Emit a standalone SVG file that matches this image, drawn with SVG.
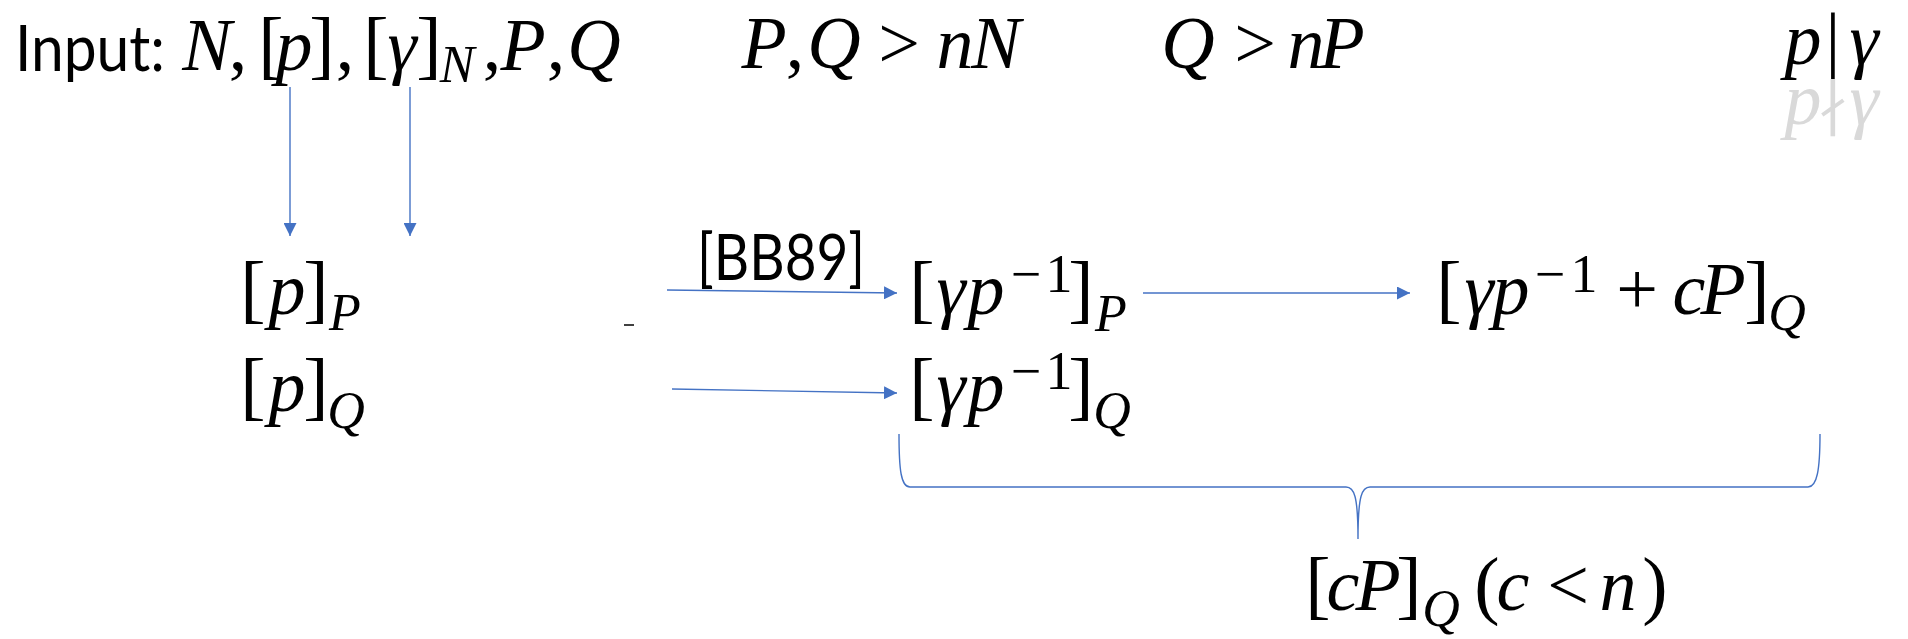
<svg xmlns="http://www.w3.org/2000/svg" width="1908" height="639" viewBox="0 0 1908 639">
<style>
.t{font-family:"Lato","Liberation Sans",sans-serif;font-size:64px;fill:#000}
.m{font-family:"Liberation Serif","DejaVu Serif",serif;font-style:italic;font-size:74px;fill:#000;text-anchor:middle}
.u{font-style:normal}
.b{font-style:normal;font-size:76px}
.s{font-size:52px}
.p{font-style:normal;font-size:54px}
.gray{fill:#d9d9d9}
.nd{font-family:"DejaVu Sans",sans-serif;font-style:normal;font-size:58px}
.ln{stroke:#4472C4;stroke-width:1.4;fill:none}
</style>
<defs>
<marker id="ahb" viewBox="0 0 10 10" refX="10" refY="5" markerWidth="13" markerHeight="13" markerUnits="userSpaceOnUse" orient="auto">
<path d="M0 0 L10 5 L0 10 Z" fill="#4472C4"/>
</marker>
</defs>
<rect width="1908" height="639" fill="#fff"/>
<g id="connectors">
<line class="ln" x1="290" y1="87" x2="290" y2="236" marker-end="url(#ahb)"/>
<line class="ln" x1="410" y1="87" x2="410" y2="236" marker-end="url(#ahb)"/>
<line class="ln" x1="667" y1="290" x2="897" y2="293" marker-end="url(#ahb)"/>
<line class="ln" x1="672" y1="389" x2="897" y2="393" marker-end="url(#ahb)"/>
<line class="ln" x1="1143" y1="293" x2="1410" y2="293" marker-end="url(#ahb)"/>
<path id="brace" class="ln" d="M899 434 C899 470 901 487 910 487 L1346 487 C1354 487 1358 495 1358 539 C1358 495 1362 487 1370 487 L1808 487 C1817 487 1820 470 1820 434"/>
<line x1="624" y1="325" x2="634" y2="325" stroke="#000" stroke-width="1.5"/>
</g>
<g id="input">
<text class="t" x="15" y="71" textLength="150" lengthAdjust="spacingAndGlyphs">Input:</text>
<text class="m" y="70"><tspan x="207">N</tspan><tspan class="u" x="238">,</tspan><tspan class="b" x="271">[</tspan><tspan x="294">p</tspan><tspan class="b" x="322">]</tspan><tspan class="u" x="345">,</tspan><tspan class="b" x="376">[</tspan><tspan x="402">γ</tspan><tspan class="b" x="429">]</tspan><tspan class="s" x="457" y="82">N</tspan><tspan class="u" x="492" y="70">,</tspan><tspan x="523">P</tspan><tspan class="u" x="556">,</tspan><tspan x="594">Q</tspan></text>
</g>
<g id="cond1">
<text class="m" y="68"><tspan x="764">P</tspan><tspan class="u" x="795">,</tspan><tspan x="834">Q</tspan><tspan class="u" x="899">&gt;</tspan><tspan x="955">n</tspan><tspan x="996">N</tspan></text>
</g>
<g id="cond2">
<text class="m" y="68"><tspan x="1188">Q</tspan><tspan class="u" x="1255">&gt;</tspan><tspan x="1306">n</tspan><tspan x="1342">P</tspan></text>
</g>
<g id="divides">
<text class="m" y="64"><tspan x="1803">p</tspan><tspan class="u" x="1833">|</tspan><tspan x="1864">γ</tspan></text>
</g>
<g id="notdivides">
<text class="m gray" y="124"><tspan x="1803">p</tspan><tspan class="nd" x="1833">∤</tspan><tspan x="1864">γ</tspan></text>
</g>
<g id="pP">
<text class="m" y="314"><tspan class="b" x="253">[</tspan><tspan x="287">p</tspan><tspan class="b" x="316">]</tspan><tspan class="s" x="345" y="330">P</tspan></text>
</g>
<g id="pQ">
<text class="m" y="411"><tspan class="b" x="253">[</tspan><tspan x="287">p</tspan><tspan class="b" x="316">]</tspan><tspan class="s" x="346" y="428">Q</tspan></text>
</g>
<g id="bb89">
<text class="t" x="697" y="280" textLength="168" lengthAdjust="spacingAndGlyphs">[BB89]</text>
</g>
<g id="gpP">
<text class="m" y="314"><tspan class="b" x="922">[</tspan><tspan x="951">γ</tspan><tspan x="986">p</tspan><tspan class="p" x="1026" y="292">−</tspan><tspan class="p" x="1059">1</tspan><tspan class="b" x="1081" y="314">]</tspan><tspan class="s" x="1111" y="331">P</tspan></text>
</g>
<g id="gpQ">
<text class="m" y="411"><tspan class="b" x="922">[</tspan><tspan x="951">γ</tspan><tspan x="986">p</tspan><tspan class="p" x="1026" y="389">−</tspan><tspan class="p" x="1059">1</tspan><tspan class="b" x="1081" y="411">]</tspan><tspan class="s" x="1112" y="428">Q</tspan></text>
</g>
<g id="gpcP">
<text class="m" y="314"><tspan class="b" x="1449">[</tspan><tspan x="1479">γ</tspan><tspan x="1511">p</tspan><tspan class="p" x="1550" y="292">−</tspan><tspan class="p" x="1584">1</tspan><tspan class="u" x="1637" y="314">+</tspan><tspan x="1689">c</tspan><tspan x="1723">P</tspan><tspan class="b" x="1757">]</tspan><tspan class="s" x="1787" y="330">Q</tspan></text>
</g>
<g id="cPQ">
<text class="m" y="610"><tspan class="b" x="1318">[</tspan><tspan x="1343">c</tspan><tspan x="1378">P</tspan><tspan class="b" x="1409">]</tspan><tspan class="s" x="1441" y="626">Q</tspan><tspan class="b" x="1487" y="610">(</tspan><tspan x="1513">c</tspan><tspan class="u" x="1568">&lt;</tspan><tspan x="1618">n</tspan><tspan class="b" x="1655">)</tspan></text>
</g>
</svg>
